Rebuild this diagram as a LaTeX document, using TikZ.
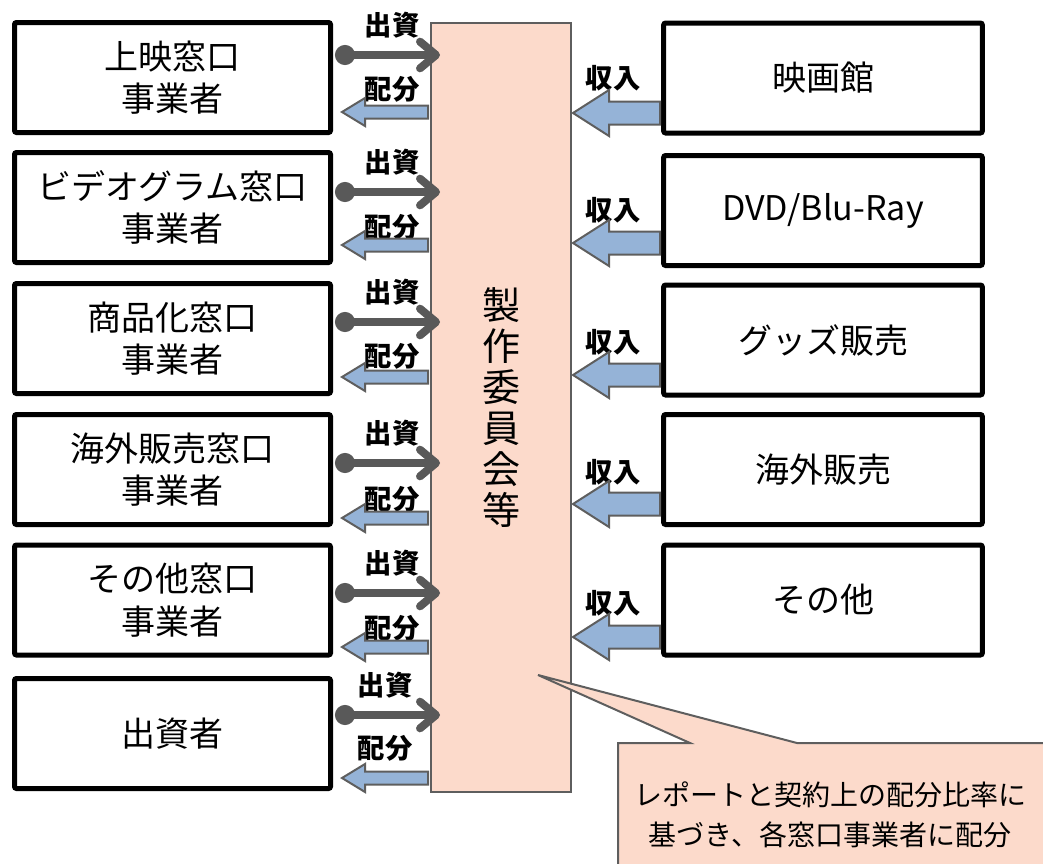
\documentclass[tikz,border=0pt]{standalone}
\usepackage{fontspec}
\setmainfont{Noto Sans CJK JP}
\usetikzlibrary{arrows.meta,calc}
\definecolor{peach}{HTML}{FCDACB}
\definecolor{ablue}{HTML}{95B3D7}
\definecolor{agray}{HTML}{5E5E5E}
\definecolor{igray}{HTML}{595959}
\tikzset{
 box/.style={draw=black, line width=3.75pt, rounded corners=1.5pt, fill=white, align=center, font=\fontsize{25.5}{32}\selectfont, inner sep=0pt},
 lbox/.style={box, minimum width=237pt, minimum height=82.5pt},
 rbox/.style={box, minimum width=239pt, minimum height=82.5pt},
 lab/.style={font=\bfseries\fontsize{20.5}{22}\selectfont, inner sep=0pt},
 invest/.style={draw=igray, line width=6pt, line cap=round, {Circle[length=15pt,width=15pt]}-{Straight Barb[length=12pt,width=20pt,line cap=round,line join=round]}},
 barrow/.style={draw=agray, line width=1.5pt, fill=ablue, line join=miter},
 callout/.style={draw=agray, line width=1.5pt, fill=peach},
}
\newcommand\blockarr[5]{%
 \draw[barrow] ($(#1)+(0,-#3)$) -- ($(#2)+(#5,-#3)$) -- ($(#2)+(#5,-#4)$) -- (#2) -- ($(#2)+(#5,#4)$) -- ($(#2)+(#5,#3)$) -- ($(#1)+(0,#3)$) -- cycle;}
\begin{document}
\begin{tikzpicture}[x=0.75pt,y=-0.75pt]
\useasboundingbox (0,0) rectangle (1043,864);
% center box
\node[draw=agray, line width=1.5pt, fill=peach, minimum width=105pt, minimum height=577pt, inner sep=0pt, align=center, font=\fontsize{28.5}{30.75}\selectfont] (C) at (501,407.5) {製\\作\\委\\員\\会\\等};
% left boxes
\node[lbox] (L1) at (172.5,77.5) {上映窓口\\事業者};
\node[lbox] (L2) at (172.5,207.5) {ビデオグラム窓口\\事業者};
\node[lbox] (L3) at (172.5,338.5) {商品化窓口\\事業者};
\node[lbox] (L4) at (172.5,469.5) {海外販売窓口\\事業者};
\node[lbox] (L5) at (172.5,600) {その他窓口\\事業者};
\node[lbox] (L6) at (172.5,733.5) {出資者};
% right boxes
\node[rbox] (R1) at (823,78) {映画館};
\node[rbox] (R2) at (823,210.5) {DVD/Blu-Ray};
\node[rbox] (R3) at (823,340) {グッズ販売};
\node[rbox] (R4) at (823,469.5) {海外販売};
\node[rbox] (R5) at (823,600) {その他};
% left arrows
\foreach \n/\iy/\dy/\lx/\ily/\dly in {1/55/112/392/25/89, 2/192/245/392/162/227, 3/322/377/392/292/356, 4/463/518/392/433/499, 5/593/647/392/563/628, 6/715/778/385/685/748} {
  \node[lab] (inv\n) at (\lx,\ily) {出資};
  \node[lab] (dis\n) at (\lx,\dly) {配分};
  \draw[invest] ($(L\n.east |- 0,\iy)+(2,0)$) -- ($(C.west |- 0,\iy)+(10,0)$);
  \coordinate (dr\n) at ($(C.west |- 0,\dy)+(-2,0)$);
  \coordinate (dt\n) at ($(L\n.east |- 0,\dy)+(9,0)$);
  \blockarr{dr\n}{dt\n}{6.5}{14}{23}
}
% right arrows
\foreach \n/\ay/\ly in {1/113/78, 2/243/210, 3/375/342, 4/504/472, 5/637/603} {
  \node[lab] (inc\n) at (613,\ly) {収入};
  \coordinate (ir\n) at ($(R\n.west |- 0,\ay)+(-1,0)$);
  \coordinate (it\n) at ($(C.east |- 0,\ay)+(1,0)$);
  \blockarr{ir\n}{it\n}{11.5}{23}{36}
}
% callout
\begin{scope}
\clip (0,0) rectangle (1043,864);
\coordinate (tail) at ($(C.center)+(37,267.5)$);
\draw[callout] (618,743) -- (690,743) -- (tail) -- (797,743) -- (1060,743) -- (1060,880) -- (618,880) -- cycle;
\end{scope}
\node[font=\fontsize{21}{30}\selectfont, align=center, inner sep=0pt] (note) at (830,815) {レポートと契約上の配分比率に\\基づき、各窓口事業者に配分};
\end{tikzpicture}
\end{document}
